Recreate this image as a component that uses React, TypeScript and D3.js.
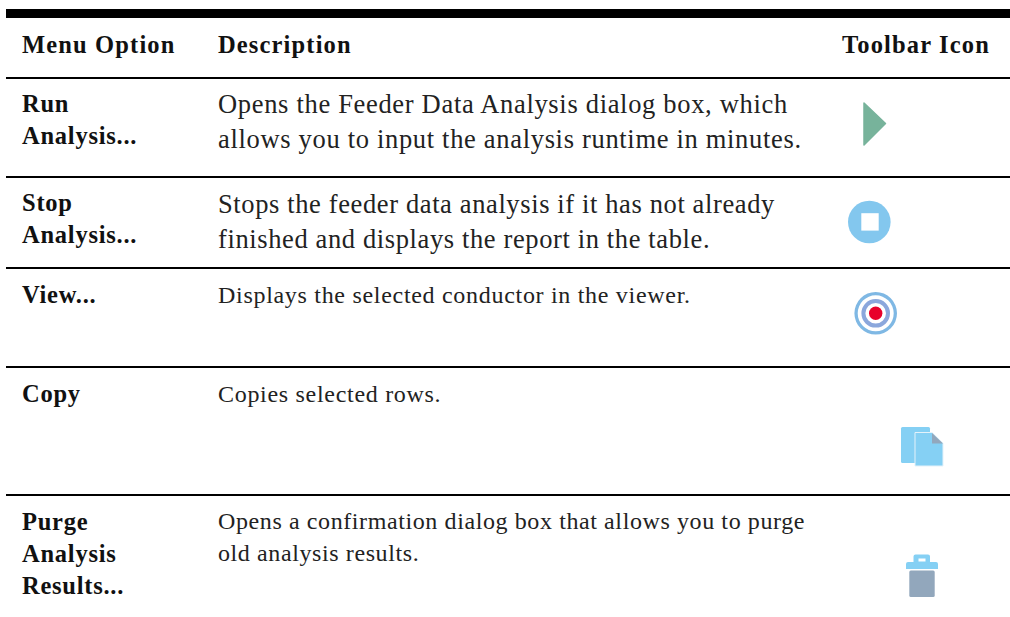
import React, { useEffect, useRef } from 'react'
import * as d3 from 'd3'

const headers = ['Menu Option', 'Description', 'Toolbar Icon']

const menuOptions = [
  ['Run', 'Analysis...'],
  ['Stop', 'Analysis...'],
  ['View...'],
  ['Copy'],
  ['Purge', 'Analysis', 'Results...'],
]

const descriptions = [
  ['Opens the Feeder Data Analysis dialog box, which', 'allows you to input the analysis runtime in minutes.'],
  ['Stops the feeder data analysis if it has not already', 'finished and displays the report in the table.'],
  ['Displays the selected conductor in the viewer.'],
  ['Copies selected rows.'],
  ['Opens a confirmation dialog box that allows you to purge', 'old analysis results.'],
]

const WIDTH = 1010
const HEIGHT = 617
const FONT = '"Liberation Serif", serif'

// y of the rule under the header and under each row
const ruleY = [78, 177, 268, 367, 495]
const optionBaseline = [112, 211, 303, 402, 530]
const descBaseline = [113, 213, 303, 402, 529]
const descSize = [26.5, 26.5, 24, 24, 24]
const descSpacing = [0.68, 0.62, 0.7, 0.7, 0.6]
const descLeading = [35, 35, 32, 32, 32]

export default function App() {
  const ref = useRef<SVGSVGElement>(null)

  useEffect(() => {
    const svg = d3.select(ref.current)
    svg.selectAll('*').remove()

    // top bar + rules
    svg.append('rect').attr('x', 6).attr('y', 9).attr('width', WIDTH - 6).attr('height', 9).attr('fill', '#000')
    svg.selectAll('line.rule')
      .data(ruleY)
      .enter().append('line')
      .attr('class', 'rule')
      .attr('x1', 6).attr('x2', WIDTH)
      .attr('y1', d => d).attr('y2', d => d)
      .attr('stroke', '#000')
      .attr('stroke-width', 2)

    // header row
    const headerX = [22, 218, 842]
    svg.selectAll('text.head')
      .data(headers)
      .enter().append('text')
      .attr('class', 'head')
      .attr('x', (_, i) => headerX[i])
      .attr('y', 53)
      .attr('font-family', FONT)
      .attr('font-weight', 700)
      .attr('font-size', 24.5)
      .attr('letter-spacing', 1.15)
      .attr('fill', '#111')
      .text(d => d)

    // menu option column
    const optionRows = svg.selectAll('g.option')
      .data(menuOptions)
      .enter().append('g')
      .attr('class', 'option')
      .attr('transform', (_, i) => `translate(22,${optionBaseline[i]})`)
    optionRows.selectAll('text')
      .data(d => d)
      .enter().append('text')
      .attr('y', (_, i) => i * 32)
      .attr('font-family', FONT)
      .attr('font-weight', 700)
      .attr('font-size', 24.5)
      .attr('letter-spacing', 0.75)
      .attr('fill', '#111')
      .text(d => d)

    // description column
    descriptions.forEach((lines, r) => {
      svg.append('g')
        .attr('transform', `translate(218,${descBaseline[r]})`)
        .selectAll('text')
        .data(lines)
        .enter().append('text')
        .attr('y', (_, i) => i * descLeading[r])
        .attr('font-family', FONT)
        .attr('font-size', descSize[r])
        .attr('letter-spacing', descSpacing[r])
        .attr('fill', '#222')
        .text(d => d)
    })

    // --- toolbar icons ---
    const blue = '#83c7ee'
    const cyan = '#85d0f4'
    const grey = '#92a7bc'

    // run
    svg.append('path')
      .attr('d', 'M864,103L885.5,123.5L864,145Z')
      .attr('fill', '#77b39b')
      .attr('stroke', '#77b39b')
      .attr('stroke-linejoin', 'round')
      .attr('stroke-width', 1.5)

    // stop
    svg.append('circle').attr('cx', 869.3).attr('cy', 222).attr('r', 21.3).attr('fill', blue)
    svg.append('rect').attr('x', 861.3).attr('y', 213.2).attr('width', 17.4).attr('height', 17.4).attr('fill', '#fff')

    // view
    const target = svg.append('g').attr('transform', 'translate(875.7,313.3)')
    const ring = d3.arc<any>()
    target.append('path').attr('fill', '#7fb8e4')
      .attr('d', ring({ innerRadius: 18, outerRadius: 21.3, startAngle: 0, endAngle: 2 * Math.PI }))
    target.append('path').attr('fill', '#8ba7dc')
      .attr('d', ring({ innerRadius: 10.3, outerRadius: 14.3, startAngle: 0, endAngle: 2 * Math.PI }))
    target.append('circle').attr('r', 6.7).attr('fill', '#e8002a')

    // copy
    svg.append('rect').attr('x', 901).attr('y', 427).attr('width', 29).attr('height', 36).attr('rx', 1.5).attr('fill', cyan)
    svg.append('path')
      .attr('d', 'M915,432.5H932L943,443.5V466H915Z')
      .attr('fill', cyan)
      .attr('stroke', '#e4f2fa')
      .attr('stroke-width', 1)
    svg.append('path').attr('d', 'M932,433L943,443.5H932Z').attr('fill', grey)

    // purge
    svg.append('path')
      .attr('d', 'M913.5,562V556.5Q913.5,554.5 915.5,554.5H928Q930,554.5 930,556.5V562H936Q938,562 938,564V569H906V564Q906,562 908,562Z')
      .attr('fill', cyan)
    svg.append('rect').attr('x', 918.5).attr('y', 558.5).attr('width', 7).attr('height', 3).attr('fill', '#fff')
    svg.append('rect').attr('x', 909.3).attr('y', 570.5).attr('width', 25.4).attr('height', 26.5).attr('rx', 1.5).attr('fill', grey)
  }, [])

  return (
    <svg
      ref={ref}
      width={WIDTH}
      height={HEIGHT}
      style={{ position: 'absolute', left: 0, top: 0, background: '#fff' }}
    />
  )
}
